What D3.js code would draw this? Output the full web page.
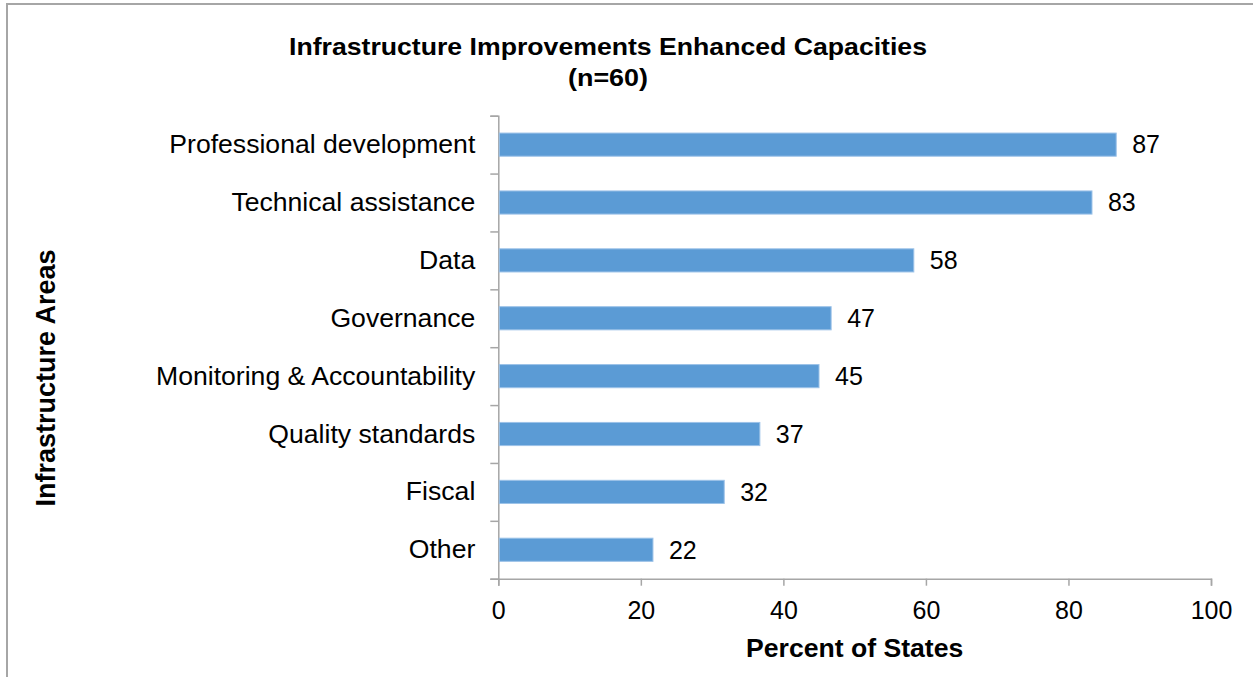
<!DOCTYPE html>
<html>
<head>
<meta charset="utf-8">
<script src="https://cdn.jsdelivr.net/npm/d3@7"></script>
<style>
  html, body { margin: 0; padding: 0; background: #fff; }
  #chart { width: 1253px; height: 677px; }
  text { font-family: "Liberation Sans", Arial, sans-serif; }
</style>
</head>
<body>
<div id="chart"></div>
<script>
const categories = [
  "Professional development", "Technical assistance", "Data", "Governance",
  "Monitoring & Accountability", "Quality standards", "Fiscal", "Other"
];
const values = [86.7, 83.3, 58.3, 46.7, 45, 36.7, 31.7, 21.7];
const valueLabels = ["87", "83", "58", "47", "45", "37", "32", "22"];
const xTicks = [0, 20, 40, 60, 80, 100];

(function() {
  const width = 1253;
  const height = 677;
  const margin = { top: 115.7, right: 42, bottom: 98.3, left: 498.3 };
  const axisColor = "#a6a6a6";

  const svg = d3.select("#chart")
    .append("svg")
    .attr("width", width)
    .attr("height", height);

  // outer frame (cut off at the right and bottom)
  svg.append("rect")
    .attr("x", 7).attr("y", 4)
    .attr("width", width + 10).attr("height", height + 10)
    .attr("fill", "none")
    .attr("stroke", axisColor)
    .attr("stroke-width", 2);

  const x = d3.scaleLinear().domain([0, 100]).range([margin.left, width - margin.right]);
  const y = d3.scaleBand().domain(categories)
    .range([margin.top, height - margin.bottom])
    .paddingInner(0.6).paddingOuter(0.3);
  const yEdge = d3.scaleLinear().domain([0, categories.length])
    .range([margin.top, height - margin.bottom]);

  // x axis
  const xAxis = svg.append("g")
    .attr("transform", `translate(0, ${height - margin.bottom})`)
    .call(d3.axisBottom(x).tickValues(xTicks).tickSize(7).tickPadding(15.5));
  xAxis.selectAll("text").attr("font-size", 25).attr("fill", "#000").attr("font-family", "Liberation Sans, Arial, sans-serif");

  // y axis ticks at category boundaries
  const yAxis = svg.append("g")
    .attr("transform", `translate(${margin.left}, 0)`)
    .call(d3.axisLeft(yEdge).tickValues(d3.range(categories.length + 1)).tickSize(8).tickFormat(""));

  // y category labels
  svg.append("g")
    .attr("transform", `translate(${margin.left}, 0)`)
    .call(d3.axisLeft(y).tickSize(0).tickPadding(23))
    .call(g => g.select(".domain").remove())
    .selectAll("text")
    .attr("font-size", 26.6).attr("fill", "#000").attr("font-family", "Liberation Sans, Arial, sans-serif");

  [xAxis, yAxis].forEach(g => {
    g.selectAll(".domain").attr("stroke", axisColor).attr("stroke-width", 1.5);
    g.selectAll(".tick line").attr("stroke", axisColor).attr("stroke-width", 1.5);
  });

  // bars
  svg.append("g").selectAll("rect")
    .data(values)
    .join("rect")
    .attr("x", x(0) + 1)
    .attr("y", (d, i) => y(categories[i]))
    .attr("width", d => x(d) - x(0) - 1)
    .attr("height", y.bandwidth())
    .attr("fill", "#5b9bd5")
    .attr("stroke", "#9cc2e8")
    .attr("stroke-width", 1);

  // value labels
  svg.append("g").selectAll("text")
    .data(values)
    .join("text")
    .attr("x", d => x(d) + 16)
    .attr("y", (d, i) => y(categories[i]) + y.bandwidth() / 2)
    .attr("dy", "0.35em")
    .attr("font-size", 25)
    .text((d, i) => valueLabels[i]);

  // title
  const title = svg.append("g").attr("font-weight", "bold").attr("font-size", 24).attr("text-anchor", "middle");
  title.append("text")
    .attr("x", 608).attr("y", 55)
    .attr("textLength", 638).attr("lengthAdjust", "spacingAndGlyphs")
    .text("Infrastructure Improvements Enhanced Capacities");
  title.append("text")
    .attr("x", 608).attr("y", 86)
    .attr("textLength", 80).attr("lengthAdjust", "spacingAndGlyphs")
    .text("(n=60)");

  // axis titles
  svg.append("text")
    .attr("x", (x(0) + x(100)) / 2).attr("y", 657)
    .attr("text-anchor", "middle")
    .attr("font-weight", "bold").attr("font-size", 26.6)
    .text("Percent of States");

  svg.append("text")
    .attr("transform", "translate(55, 378) rotate(-90)")
    .attr("text-anchor", "middle")
    .attr("font-weight", "bold").attr("font-size", 27)
    .text("Infrastructure Areas");
})();
</script>
</body>
</html>
